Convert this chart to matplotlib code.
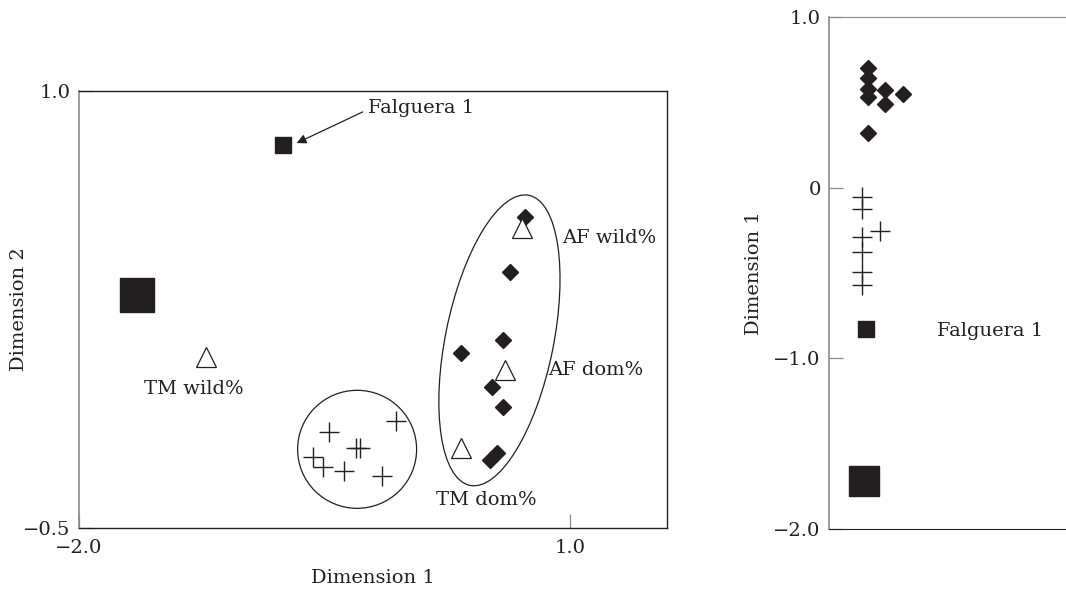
import matplotlib
matplotlib.use("Agg")
import matplotlib.pyplot as plt
from matplotlib.patches import Ellipse
from matplotlib.transforms import ScaledTranslation

plt.rcParams['font.family'] = ['DejaVu Serif']
FS = 14

# ---------------- Left panel data (Dimension 1 vs Dimension 2) ----------------
diam_x = [0.726, 0.634, 0.591, 0.335, 0.524, 0.591, 0.512, 0.555]
diam_y = [0.567, 0.378, 0.144, 0.100, -0.017, -0.086, -0.265, -0.241]

plus_x = [-0.067, -0.476, -0.311, -0.287, -0.573, -0.512, -0.384, -0.152]
plus_y = [-0.134, -0.172, -0.227, -0.227, -0.258, -0.289, -0.306, -0.320]

tri_labels = ["TM wild%", "AF wild%", "AF dom%", "TM dom%"]
tri_x = [-1.226, 0.707, 0.604, 0.335]
tri_y = [0.086, 0.529, 0.041, -0.227]

falguera_x = [-0.756]
falguera_y = [0.814]
big_sq_x = [-1.646]
big_sq_y = [0.299]

# ---------------- Right panel data (Dimension 1 strip) ----------------
r_diam_x = [0.165, 0.165, 0.165, 0.165, 0.236, 0.236, 0.312, 0.165]
r_diam_y = [0.70, 0.64, 0.58, 0.53, 0.57, 0.49, 0.55, 0.32]
r_plus_x = [0.139, 0.139, 0.139, 0.139, 0.139, 0.139, 0.215]
r_plus_y = [-0.053, -0.124, -0.288, -0.376, -0.494, -0.571, -0.253]
r_falguera_x = [0.156]
r_falguera_y = [-0.829]
r_big_sq_x = [0.148]
r_big_sq_y = [-1.718]

DARK = '#231f20'
GRAY = '#8a8a8a'

fig = plt.figure(figsize=(10.66, 5.89), dpi=100)

# ---------- left axes ----------
ax = fig.add_axes([0.0741, 0.1036, 0.5516, 0.742])
ax.set_xlim(-2.0, 1.59)
ax.set_ylim(-0.5, 1.0)

ax.plot(diam_x, diam_y, linestyle='none', marker='D', ms=8.5, color=DARK, mec=DARK)
ax.plot(plus_x, plus_y, linestyle='none', marker='+', ms=14, mew=1.0, color=DARK)
ax.plot(tri_x, tri_y, linestyle='none', marker='^', ms=14.5, mfc='white', mec=DARK, mew=0.9)
ax.plot(falguera_x, falguera_y, linestyle='none', marker='s', ms=12, color=DARK)
ax.plot(big_sq_x, big_sq_y, linestyle='none', marker='s', ms=24, color=DARK)

# triangle labels
lab_pos = {"TM wild%": (-1.30, -0.022, 'center'),
           "AF wild%": (0.951, 0.495, 'left'),
           "AF dom%": (0.866, 0.041, 'left'),
           "TM dom%": (0.488, -0.405, 'center')}
for lab in tri_labels:
    lx, ly, ha = lab_pos[lab]
    ax.text(lx, ly, lab, ha=ha, va='center', fontsize=FS, color=DARK)

ax.text(-0.238, 0.942, "Falguera 1", ha='left', va='center', fontsize=FS, color=DARK)
ax.annotate("", xy=(-0.671, 0.821), xytext=(-0.268, 0.928),
            arrowprops=dict(arrowstyle='-|>', color=DARK, lw=0.9,
                            mutation_scale=14, shrinkA=0, shrinkB=0))

# group ellipses (sizes in inches, centred on data positions)
def group_ellipse(axis, cx, cy, w_in, h_in, angle):
    tr = fig.dpi_scale_trans + ScaledTranslation(cx, cy, axis.transData)
    e = Ellipse((0, 0), w_in, h_in, angle=angle, transform=tr,
                fill=False, edgecolor=DARK, lw=0.9)
    axis.add_patch(e)

group_ellipse(ax, -0.302, -0.230, 1.19, 1.18, 0)
group_ellipse(ax, 0.567, 0.144, 2.96, 1.08, 78.5)

ax.set_xticks([-2.0, 1.0])
ax.set_xticklabels(['\u22122.0', '1.0'])
ax.set_yticks([-0.5, 1.0])
ax.set_yticklabels(['\u22120.5', '1.0'])
ax.tick_params(direction='in', length=10, width=0.9, color=GRAY, labelsize=FS,
               labelcolor=DARK)
ax.tick_params(axis='x', pad=8)
ax.tick_params(axis='y', pad=6)
for s in ['top', 'bottom', 'right']:
    ax.spines[s].set_color(DARK)
    ax.spines[s].set_linewidth(1.0)
ax.spines['left'].set_color(GRAY)
ax.spines['left'].set_linewidth(1.2)
ax.set_xlabel('Dimension 1', fontsize=FS, color=DARK)
ax.set_ylabel('Dimension 2', fontsize=FS, color=DARK)
ax.xaxis.set_label_coords(0.5, -0.095)
ax.yaxis.set_label_coords(-0.087, 0.5)

# ---------- right axes ----------
ax2 = fig.add_axes([0.7777, 0.1019, 0.2223, 0.8693])
ax2.set_xlim(0, 1)
ax2.set_ylim(-2.0, 1.0)
ax2.plot(r_diam_x, r_diam_y, linestyle='none', marker='D', ms=8.5, color=DARK)
ax2.plot(r_plus_x, r_plus_y, linestyle='none', marker='+', ms=14, mew=1.0, color=DARK)
ax2.plot(r_falguera_x, r_falguera_y, linestyle='none', marker='s', ms=11.5, color=DARK)
ax2.plot(r_big_sq_x, r_big_sq_y, linestyle='none', marker='s', ms=22, color=DARK)
ax2.text(0.456, -0.841, 'Falguera 1', ha='left', va='center', fontsize=FS, color=DARK)

ax2.set_xticks([])
ax2.set_yticks([1.0, 0.0, -1.0, -2.0])
ax2.set_yticklabels(['1.0', '0', '\u22121.0', '\u22122.0'])
ax2.tick_params(direction='in', length=10, width=0.9, color=GRAY, labelsize=FS,
                labelcolor=DARK, pad=6)
ax2.spines['right'].set_visible(False)
ax2.spines['top'].set_color(GRAY)
ax2.spines['bottom'].set_color(DARK)
ax2.spines['left'].set_color(GRAY)
ax2.spines['left'].set_linewidth(1.2)
ax2.set_ylabel('Dimension 1', fontsize=FS, color=DARK)
ax2.yaxis.set_label_coords(-0.278, 0.5)

fig.savefig('out.png', dpi=100)
